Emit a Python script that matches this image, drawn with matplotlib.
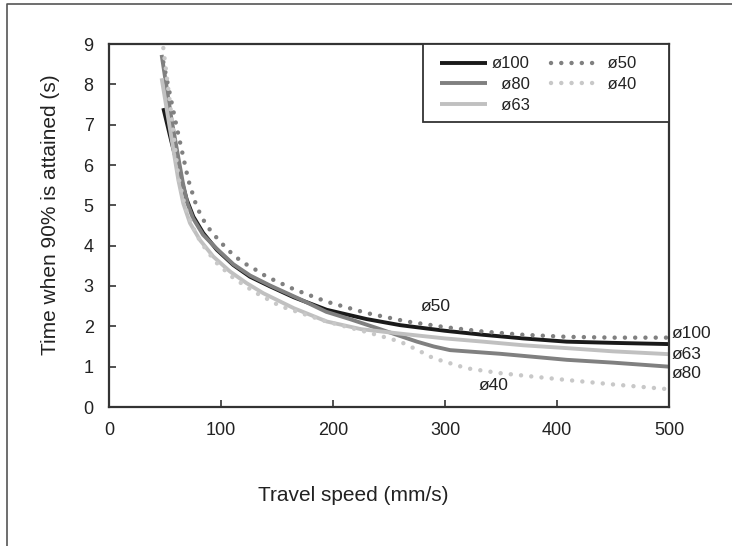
import matplotlib
matplotlib.use("Agg")
import matplotlib.pyplot as plt
from matplotlib.lines import Line2D
from matplotlib.patches import Rectangle

plt.rcParams['font.family'] = ['Liberation Sans', 'DejaVu Sans']

# values
x_100 = [48.5, 56, 64.9, 69.4, 75.3, 84.2, 96.2, 111, 125.9, 143.8, 165, 194.4, 230, 259.8, 300, 334.2, 370, 408.6, 450, 500]
y_100 = [7.41, 6.55, 5.6, 5.14, 4.72, 4.31, 3.9, 3.52, 3.23, 2.99, 2.72, 2.41, 2.18, 2.03, 1.89, 1.79, 1.7, 1.62, 1.59, 1.56]

x_80 = [47, 56, 66, 70, 75, 84, 96, 111, 126, 144, 170, 194, 215, 242, 260, 275, 290, 304.5, 349, 408.6, 450, 500]
y_80 = [8.73, 7.1, 5.55, 5.05, 4.68, 4.27, 3.93, 3.54, 3.26, 3.01, 2.68, 2.36, 2.18, 1.93, 1.76, 1.62, 1.5, 1.41, 1.32, 1.17, 1.1, 1.0]

x_63 = [47, 55, 61.9, 66.3, 72.3, 81.2, 93.1, 108, 122.9, 137.8, 165, 194.4, 225, 259.8, 300, 334.2, 370, 408.6, 450, 500]
y_63 = [8.15, 6.8, 5.63, 5.05, 4.56, 4.14, 3.73, 3.36, 3.07, 2.82, 2.45, 2.12, 1.93, 1.82, 1.7, 1.62, 1.53, 1.46, 1.38, 1.31]

x_50 = [48.5, 60, 70.8, 78.2, 84.2, 90.2, 99.1, 108, 118.5, 128.8, 140.8, 165, 194.4, 230, 265.8, 300, 334.2, 370, 408.6, 450, 500]
y_50 = [8.55, 7.0, 5.63, 4.97, 4.64, 4.39, 4.1, 3.85, 3.6, 3.44, 3.23, 2.92, 2.61, 2.33, 2.12, 1.98, 1.87, 1.79, 1.74, 1.72, 1.72]

x_40 = [48.5, 55, 62, 68, 75, 82, 95, 111, 130, 153, 194, 230, 260, 275, 289.6, 319.4, 349, 380, 408.6, 450, 500]
y_40 = [8.9, 7.4, 5.7, 4.95, 4.45, 4.08, 3.6, 3.2, 2.85, 2.5, 2.12, 1.86, 1.62, 1.42, 1.21, 0.96, 0.84, 0.75, 0.67, 0.56, 0.44]

x_ticks = [0, 100, 200, 300, 400, 500]
y_ticks = [0, 1, 2, 3, 4, 5, 6, 7, 8, 9]

dark = '#222222'
dots = (0, (0.01, 2.3))

fig = plt.figure(figsize=(7.32, 5.46), dpi=100)
ax = fig.add_axes([109 / 732, 1 - 407 / 546, 560 / 732, 363 / 546])

ax.plot(x_100, y_100, color='#1a1a1a', lw=2.8, solid_capstyle='butt', label='ø100')
ax.plot(x_80, y_80, color='#808080', lw=2.8, solid_capstyle='butt', label='  ø80')
ax.plot(x_63, y_63, color='#c0c0c0', lw=2.8, solid_capstyle='butt', label='  ø63')
ax.plot(x_50, y_50, color='#808080', lw=3.2, linestyle=dots, dash_capstyle='round', label=' ø50')
ax.plot(x_40, y_40, color='#c8c8c8', lw=3.2, linestyle=dots, dash_capstyle='round', label=' ø40')

ax.set_xlim(0, 500)
ax.set_ylim(0, 9)
ax.set_xticks(x_ticks)
ax.set_yticks(y_ticks)
ax.tick_params(direction='in', length=5, width=1.2, color='#333333',
               labelsize=13, labelcolor=dark, pad=11)
for sp in ax.spines.values():
    sp.set_color('#333333')
    sp.set_linewidth(1.6)

ax.set_xlabel('Travel speed (mm/s)', fontsize=15, color=dark)
ax.xaxis.set_label_coords(0.436, -0.218)
ax.set_ylabel('Time when 90% is attained (s)', fontsize=15, color=dark)
ax.yaxis.set_label_coords(-0.087, 0.53)

# legend box drawn separately so the padding can match
ax.add_patch(Rectangle((0.5607, 0.785), 0.4393, 0.215, transform=ax.transAxes,
                       facecolor='white', edgecolor='#333333', lw=1.3, zorder=4.5,
                       clip_on=False))
leg = ax.legend(ncol=2, loc='upper left', bbox_to_anchor=(0.591, 0.966),
                borderaxespad=0, borderpad=0, fontsize=12, frameon=False,
                handlelength=2.8, handletextpad=0.3, labelspacing=0.35,
                columnspacing=1.3)
for t in leg.get_texts():
    t.set_color(dark)

# curve annotations
ax.text(502.7, 1.81, 'ø100', fontsize=12.5, color=dark, ha='left', va='center', clip_on=False)
ax.text(502.7, 1.31, 'ø63', fontsize=12.5, color=dark, ha='left', va='center', clip_on=False)
ax.text(502.7, 0.82, 'ø80', fontsize=12.5, color=dark, ha='left', va='center', clip_on=False)
ax.text(291.8, 2.49, 'ø50', fontsize=12.5, color=dark, ha='center', va='center')
ax.text(343.1, 0.53, 'ø40', fontsize=12.5, color=dark, ha='center', va='center')

# outer frame (left and top edges only visible)
fx = 7.5 / 732
fy = 1 - 4 / 546
fig.add_artist(Line2D([fx, fx, 1], [0, fy, fy], transform=fig.transFigure,
                      color='#555555', lw=1.2))

fig.savefig('out.png', dpi=100)
